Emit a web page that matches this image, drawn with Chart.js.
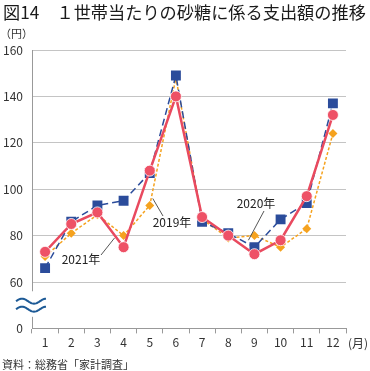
<!DOCTYPE html>
<html>
<head>
<meta charset="utf-8">
<script src="https://cdn.jsdelivr.net/npm/chart.js@4"></script>
<style>
  html, body { margin: 0; padding: 0; background: #fff; }
</style>
</head>
<body>
<canvas id="sugarChart" width="370" height="371"></canvas>
<script>
// 月
const months = ["1", "2", "3", "4", "5", "6", "7", "8", "9", "10", "11", "12"];
// 1世帯当たり支出額（円）
const y2019 = [71, 81, 89, 80, 93, 148, 87, 79, 80, 75, 83, 124];
const y2020 = [66, 86, 93, 95, 107, 149, 86, 81, 75, 87, 94, 137];
const y2021 = [73, 85, 90, 75, 108, 140, 88, 80, 72, 78, 97, 132];
// 縦軸の目盛り（40の位置を省略して「0」と表示）
const yTicks = [40, 60, 80, 100, 120, 140, 160];
const yTickLabels = ["0", "60", "80", "100", "120", "140", "160"];

const FONT = "'Noto Sans CJK JP', 'Noto Sans', sans-serif";
const TITLE = '図14　１世帯当たりの砂糖に係る支出額の推移';

// タイトル・系列ラベル・軸の途切れ・単位を描く
const extrasPlugin = {
  id: 'extras',
  afterDatasetsDraw(chart) {
    const ctx = chart.ctx;
    const area = chart.chartArea;
    const x = chart.scales.x;
    const y = chart.scales.y;
    ctx.save();

    // タイトル（幅を縮めないよう自前で描く）
    ctx.fillStyle = '#1a1a1a';
    ctx.font = '17.2px ' + FONT;
    ctx.textBaseline = 'middle';
    ctx.textAlign = 'left';
    ctx.fillText(TITLE, 3, 12);

    // 縦軸（途中で省略）
    ctx.strokeStyle = '#999';
    ctx.lineWidth = 1;
    ctx.beginPath();
    ctx.moveTo(area.left + 0.5, area.top);
    ctx.lineTo(area.left + 0.5, y.getPixelForValue(56));
    ctx.moveTo(area.left + 0.5, y.getPixelForValue(45));
    ctx.lineTo(area.left + 0.5, area.bottom);
    ctx.stroke();

    // 波線
    ctx.strokeStyle = '#1d5a96';
    ctx.lineWidth = 2;
    const cy = y.getPixelForValue(50);
    [-4, 4].forEach(function(off) {
      ctx.beginPath();
      for (let i = 0; i <= 30; i++) {
        const px = 16 + i;
        const py = cy + off - 2.5 * Math.sin(i / 30 * Math.PI * 2.5);
        if (i === 0) ctx.moveTo(px, py); else ctx.lineTo(px, py);
      }
      ctx.stroke();
    });

    // 単位
    ctx.fillStyle = '#333';
    ctx.font = '11px ' + FONT;
    ctx.fillText('（円）', 0, 34);
    ctx.font = '12px ' + FONT;
    ctx.fillText('(月)', x.getPixelForValue(11) + 15, area.bottom + 15);

    // 系列ラベル
    ctx.strokeStyle = '#555';
    ctx.lineWidth = 1;
    ctx.font = '12px ' + FONT;
    ctx.fillStyle = '#222';
    const labels = [
      { text: '2019年', tx: 172, ty: 222, from: [163, 216], to: [x.getPixelForValue(4) + 3, y.getPixelForValue(96)] },
      { text: '2021年', tx: 81, ty: 259, from: [101, 255], to: [x.getPixelForValue(3) - 9, y.getPixelForValue(79)] },
      { text: '2020年', tx: 256, ty: 203, from: [264, 211], to: [x.getPixelForValue(8) - 6, y.getPixelForValue(78)] }
    ];
    labels.forEach(function(l) {
      ctx.beginPath();
      ctx.moveTo(l.from[0], l.from[1]);
      ctx.lineTo(l.to[0], l.to[1]);
      ctx.stroke();
      ctx.textAlign = 'center';
      ctx.fillText(l.text, l.tx, l.ty);
    });
    ctx.restore();
  }
};

const ctx = document.getElementById('sugarChart');
const sugarChart = new Chart(ctx, {
  type: 'line',
  data: {
    labels: months,
    datasets: [{
      label: '2021年',
      data: y2021,
      order: 0,
      borderColor: '#e94a5f',
      backgroundColor: '#ee5166',
      borderWidth: 2.5,
      pointStyle: 'circle',
      pointRadius: 5.5,
      pointBorderColor: '#fff',
      pointBorderWidth: 0.8,
      tension: 0
    }, {
      label: '2020年',
      data: y2020,
      order: 1,
      borderColor: '#2b4c9b',
      backgroundColor: '#2b4c9b',
      borderWidth: 1.5,
      borderDash: [7, 4],
      pointStyle: 'rect',
      pointRadius: 7,
      pointBorderWidth: 0,
      tension: 0
    }, {
      label: '2019年',
      data: y2019,
      order: 2,
      borderColor: '#f5a21e',
      backgroundColor: '#f5a21e',
      borderWidth: 1.5,
      borderDash: [3, 2],
      pointStyle: 'rectRot',
      pointRadius: 4.5,
      pointBorderWidth: 0,
      tension: 0
    }]
  },
  options: {
    responsive: false,
    animation: false,
    devicePixelRatio: 1,
    layout: { padding: { left: 2, right: 24, top: 50, bottom: 0 } },
    plugins: {
      legend: { display: false },
      tooltip: { enabled: false },
      title: { display: false },
      subtitle: {
        display: true,
        position: 'bottom',
        text: '資料：総務省「家計調査」',
        align: 'start',
        color: '#333',
        font: { family: FONT, size: 11, weight: 'normal' },
        padding: { top: 6, bottom: 0 }
      }
    },
    scales: {
      x: {
        offset: true,
        grid: {
          offset: true,
          drawOnChartArea: false,
          drawTicks: true,
          tickLength: 5,
          color: '#999'
        },
        border: { display: true, color: '#999' },
        ticks: {
          color: '#333',
          font: { family: FONT, size: 12 },
          padding: 2,
          maxRotation: 0
        }
      },
      y: {
        min: 40,
        max: 160,
        afterBuildTicks: function(scale) {
          scale.ticks = yTicks.map(function(v) { return { value: v }; });
        },
        afterFit: function(scale) {
          scale.width = 30;
        },
        grid: { color: '#c4c4c4', drawTicks: false },
        border: { display: false },
        ticks: {
          color: '#333',
          font: { family: FONT, size: 12 },
          padding: 9,
          callback: function(value) {
            const i = yTicks.indexOf(value);
            return i >= 0 ? yTickLabels[i] : '';
          }
        }
      }
    }
  },
  plugins: [extrasPlugin]
});
</script>
</body>
</html>
